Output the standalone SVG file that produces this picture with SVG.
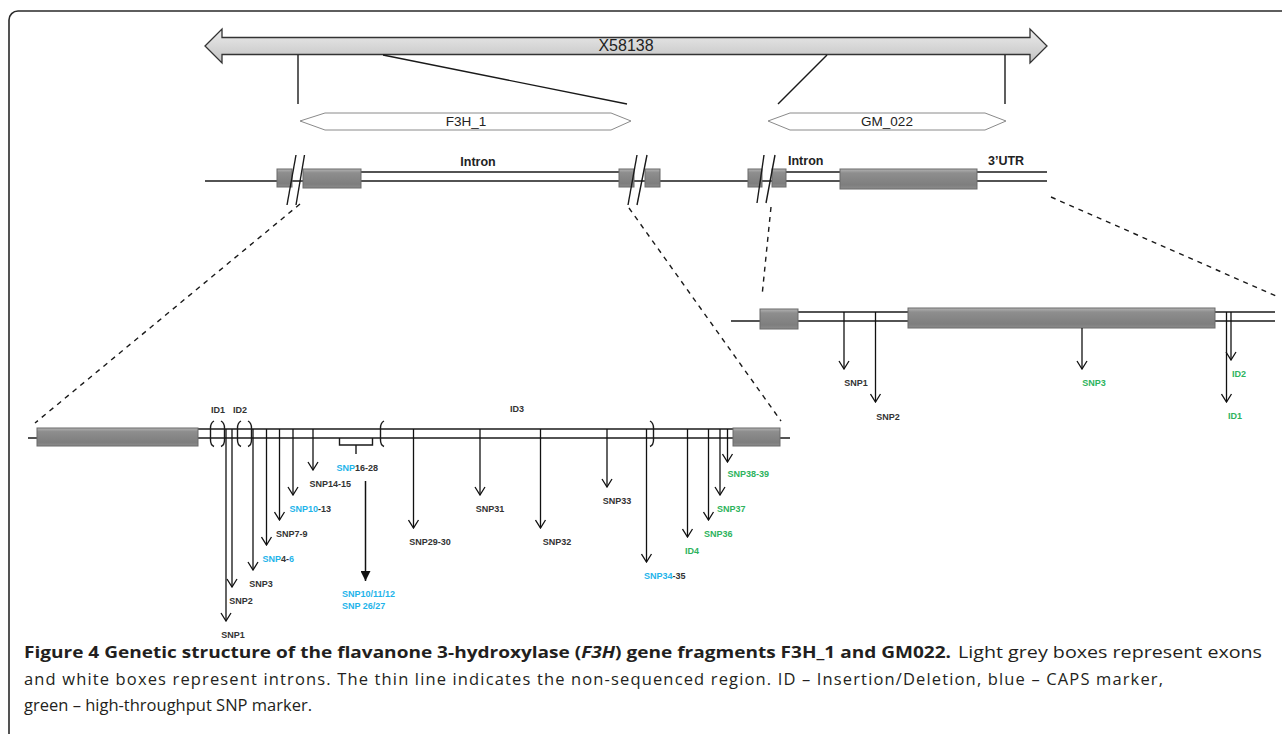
<svg xmlns="http://www.w3.org/2000/svg" width="1282" height="734" viewBox="0 0 1282 734">
<style>
.ln{stroke:#1a1a1a;stroke-width:1.4;fill:none}
.dash{stroke:#1a1a1a;stroke-width:1.4;fill:none;stroke-dasharray:5 5}
.exon{fill:url(#exg);stroke:#6a6a6a;stroke-width:1}
.hex{fill:#fff;stroke:#8a8a8a;stroke-width:1}
.arr{stroke:#111;stroke-width:1.3;fill:none;marker-end:url(#open)}
.lbl{font-family:"Liberation Sans",Arial,sans-serif;font-size:9px;font-weight:bold;fill:#333}
.b{fill:#1fb4ea}
.g{fill:#2db35d}
.big{font-family:"Liberation Sans",Arial,sans-serif;fill:#222}
.hd{font-family:"Liberation Sans",Arial,sans-serif;font-size:12.5px;font-weight:bold;fill:#222}
.cap{font-family:"Open Sans","Liberation Sans",sans-serif;font-size:16.5px;fill:#231f20}
</style>
<defs>
<linearGradient id="exg" x1="0" y1="0" x2="0" y2="1">
<stop offset="0" stop-color="#b4b4b4"/>
<stop offset="0.2" stop-color="#8e8e8e"/>
<stop offset="0.8" stop-color="#7e7e7e"/>
<stop offset="1" stop-color="#8c8c8c"/>
</linearGradient>
<linearGradient id="arg" x1="0" y1="0" x2="0" y2="1">
<stop offset="0" stop-color="#ececec"/>
<stop offset="1" stop-color="#c2c2c2"/>
</linearGradient>
<marker id="open" viewBox="0 0 10 12" refX="9" refY="6" markerWidth="10" markerHeight="12" markerUnits="userSpaceOnUse" orient="auto">
<path d="M1,1 L9,6 L1,11" fill="none" stroke="#111" stroke-width="1.3"/>
</marker>
<marker id="solid" viewBox="0 0 10 10" refX="10" refY="5" markerWidth="10" markerHeight="10" markerUnits="userSpaceOnUse" orient="auto">
<path d="M0,0 L10,5 L0,10 z" fill="#111"/>
</marker>
</defs>
<rect x="0" y="0" width="1282" height="734" fill="#fff"/>
<rect x="9" y="11" width="1300" height="760" rx="9" fill="none" stroke="#2a2a2a" stroke-width="1.6"/>

<g id="x58138">
<polygon points="205,46 222,29 222,37.5 1030,37.5 1030,29 1047,46 1030,63 1030,54.5 222,54.5 222,63" fill="url(#arg)" stroke="#333" stroke-width="1.3"/>
<text class="big" x="626" y="51" font-size="16" text-anchor="middle">X58138</text>
</g>

<g id="f3h1">
<polygon class="hex" points="300,121 325,113 611,113 631,121 611,130 325,130"/>
<text class="big" x="466" y="126" font-size="13.5" text-anchor="middle">F3H_1</text>
</g>
<g id="gm022">
<polygon class="hex" points="768,121 790,113 985,113 1006,121 985,130 790,130"/>
<text class="big" x="887" y="126" font-size="13.5" text-anchor="middle">GM_022</text>
</g>

<g id="gene-top">
<line class="ln" x1="205" y1="181" x2="1047" y2="181"/>
<line class="ln" x1="361" y1="172" x2="619" y2="172"/>
<line class="ln" x1="786" y1="172" x2="840" y2="172"/>
<line class="ln" x1="977" y1="172" x2="1047" y2="172"/>
<rect class="exon" x="277" y="169" width="15" height="18"/>
<rect class="exon" x="303" y="169" width="58" height="19"/>
<rect class="exon" x="619" y="169" width="15" height="18"/>
<rect class="exon" x="645" y="169" width="15" height="18"/>
<rect class="exon" x="748" y="169" width="14" height="18"/>
<rect class="exon" x="772" y="169" width="14" height="18"/>
<rect class="exon" x="840" y="169" width="137" height="20"/>
<line class="ln" x1="296" y1="155" x2="287" y2="205"/>
<line class="ln" x1="304.5" y1="155" x2="296" y2="205"/>
<line class="ln" x1="637" y1="155" x2="628" y2="205"/>
<line class="ln" x1="647" y1="155" x2="637" y2="205"/>
<line class="ln" x1="764" y1="155" x2="757" y2="203"/>
<line class="ln" x1="775" y1="155" x2="766" y2="203"/>
<text class="hd" x="478" y="166" text-anchor="middle">Intron</text>
<text class="hd" x="788" y="165">Intron</text>
<text class="hd" x="988" y="165">3’UTR</text>
</g>

<g id="gene-f3h1">
<line class="ln" x1="28" y1="438" x2="790" y2="438"/>
<line class="ln" x1="198" y1="429" x2="733" y2="429"/>
<rect class="exon" x="37" y="428" width="161" height="18"/>
<rect class="exon" x="733" y="428" width="47" height="18"/>
<path class="ln" d="M214,421 Q210.5,423 210.5,428 L210.5,440 Q210.5,445 214,446.5"/>
<path class="ln" d="M221,421 Q224.5,423 224.5,428 L224.5,440 Q224.5,445 221,446.5"/>
<path class="ln" d="M241,421 Q237.5,423 237.5,428 L237.5,440 Q237.5,445 241,446.5"/>
<path class="ln" d="M248,421 Q251.5,423 251.5,428 L251.5,440 Q251.5,445 248,446.5"/>
<path class="ln" d="M384,421 Q380.5,423 380.5,428 L380.5,440 Q380.5,445 384,446.5"/>
<path class="ln" d="M650,421 Q653.5,423 653.5,428 L653.5,440 Q653.5,445 650,446.5"/>
<path class="ln" d="M339.5,438 L339.5,445 L372.5,445 L372.5,438 M356,445 L356,454"/>
<text class="lbl" x="218" y="413" text-anchor="middle">ID1</text>
<text class="lbl" x="240" y="413" text-anchor="middle">ID2</text>
<text class="lbl" x="517" y="412" text-anchor="middle">ID3</text>
</g>

<g id="gene-gm022">
<line class="ln" x1="731" y1="321" x2="1275" y2="321"/>
<line class="ln" x1="798" y1="312" x2="908" y2="312"/>
<line class="ln" x1="1215" y1="312" x2="1275" y2="312"/>
<rect class="exon" x="760" y="309" width="38" height="20"/>
<rect class="exon" x="908" y="308" width="307" height="20"/>
</g>

<g id="connectors">
<line class="ln" x1="298" y1="55" x2="298" y2="104"/>
<line class="ln" x1="383" y1="55" x2="627" y2="104"/>
<line class="ln" x1="827" y1="55" x2="778" y2="104"/>
<line class="ln" x1="1005" y1="55" x2="1005" y2="104"/>
<line class="dash" x1="300" y1="204" x2="35" y2="423"/>
<line class="dash" x1="629" y1="208" x2="781" y2="421"/>
<line class="dash" x1="771" y1="207" x2="762" y2="296"/>
<line class="dash" x1="1051" y1="197" x2="1276" y2="296"/>

<line class="arr" x1="226" y1="429" x2="226" y2="621"/>
<line class="arr" x1="232" y1="429" x2="232" y2="587"/>
<line class="arr" x1="253" y1="429" x2="253" y2="570"/>
<line class="arr" x1="266.5" y1="429" x2="266.5" y2="545"/>
<line class="arr" x1="279.5" y1="429" x2="279.5" y2="520"/>
<line class="arr" x1="293" y1="429" x2="293" y2="495"/>
<line class="arr" x1="313" y1="429" x2="313" y2="470"/>
<line x1="365.5" y1="481" x2="365.5" y2="581" stroke="#111" stroke-width="1.5" marker-end="url(#solid)"/>
<line class="arr" x1="413.5" y1="429" x2="413.5" y2="528"/>
<line class="arr" x1="480" y1="429" x2="480" y2="495"/>
<line class="arr" x1="540.5" y1="429" x2="540.5" y2="528"/>
<line class="arr" x1="607" y1="429" x2="607" y2="487"/>
<line class="arr" x1="646.5" y1="429" x2="646.5" y2="562"/>
<line class="arr" x1="687.5" y1="429" x2="687.5" y2="537"/>
<line class="arr" x1="708.5" y1="429" x2="708.5" y2="520"/>
<line class="arr" x1="720" y1="429" x2="720" y2="495"/>
<line class="arr" x1="727.5" y1="429" x2="727.5" y2="462"/>

<line class="arr" x1="844" y1="312" x2="844" y2="369"/>
<line class="arr" x1="875.5" y1="312" x2="875.5" y2="402"/>
<line class="arr" x1="1082" y1="328" x2="1082" y2="369"/>
<line class="arr" x1="1231" y1="312" x2="1231" y2="360"/>
<line class="arr" x1="1226.5" y1="312" x2="1226.5" y2="402"/>
</g>

<g id="labels-f3h1">
<text class="lbl" x="233" y="638" text-anchor="middle">SNP1</text>
<text class="lbl" x="241" y="604" text-anchor="middle">SNP2</text>
<text class="lbl" x="261" y="587" text-anchor="middle">SNP3</text>
<text class="lbl" x="262.5" y="562"><tspan class="b">SNP</tspan>4-<tspan class="b">6</tspan></text>
<text class="lbl" x="276" y="537">SNP7-9</text>
<text class="lbl" x="289.5" y="512"><tspan class="b">SNP10</tspan>-13</text>
<text class="lbl" x="309.5" y="487">SNP14-15</text>
<text class="lbl" x="336.5" y="471"><tspan class="b">SNP</tspan>16-28</text>
<text class="lbl b" x="342" y="597">SNP10/11/12</text>
<text class="lbl b" x="342" y="609">SNP 26/27</text>
<text class="lbl" x="430" y="545" text-anchor="middle">SNP29-30</text>
<text class="lbl" x="490" y="512" text-anchor="middle">SNP31</text>
<text class="lbl" x="557" y="545" text-anchor="middle">SNP32</text>
<text class="lbl" x="617" y="504" text-anchor="middle">SNP33</text>
<text class="lbl" x="644" y="579"><tspan class="b">SNP34</tspan>-35</text>
<text class="lbl g" x="692" y="554" text-anchor="middle">ID4</text>
<text class="lbl g" x="704" y="537">SNP36</text>
<text class="lbl g" x="717" y="512">SNP37</text>
<text class="lbl g" x="727.5" y="477">SNP38-39</text>
</g>

<g id="labels-gm022">
<text class="lbl" x="856" y="386" text-anchor="middle">SNP1</text>
<text class="lbl" x="888" y="420" text-anchor="middle">SNP2</text>
<text class="lbl g" x="1094" y="386" text-anchor="middle">SNP3</text>
<text class="lbl g" x="1239" y="377" text-anchor="middle">ID2</text>
<text class="lbl g" x="1235" y="419" text-anchor="middle">ID1</text>
</g>

<g id="caption">
<text class="cap" x="24" y="658" font-weight="bold" textLength="927" lengthAdjust="spacingAndGlyphs">Figure 4 Genetic structure of the flavanone 3-hydroxylase (<tspan font-style="italic">F3H</tspan>) gene fragments F3H_1 and GM022.</text>
<text class="cap" x="958" y="658" textLength="304" lengthAdjust="spacingAndGlyphs">Light grey boxes represent exons</text>
<text class="cap" x="24" y="685" textLength="1139">and white boxes represent introns. The thin line indicates the non-sequenced region. ID – Insertion/Deletion, blue – CAPS marker,</text>
<text class="cap" x="24" y="711">green – high-throughput SNP marker.</text>
</g>
</svg>
